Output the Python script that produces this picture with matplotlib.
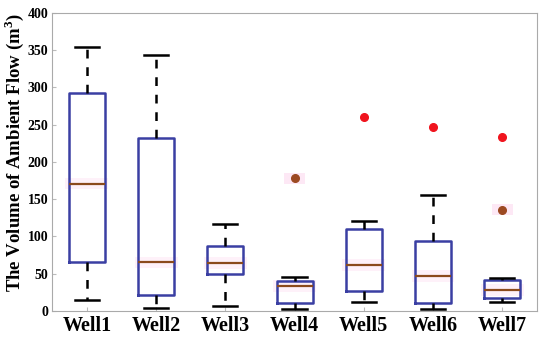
import matplotlib
matplotlib.use("Agg")
import matplotlib.pyplot as plt
from matplotlib.patches import Rectangle

wells = ["Well1", "Well2", "Well3", "Well4", "Well5", "Well6", "Well7"]
whislo = [14, 4, 7, 2, 12, 3, 12]
q1 = [66, 21, 49, 10, 27, 11, 17]
med = [171, 65, 64, 33, 61, 47, 28]
q3 = [292, 232, 87, 40, 110, 94, 42]
whishi = [355, 343, 117, 46, 121, 155, 44]
red_outliers = [[], [], [], [], [260], [247], [233]]
brown_outliers = [[], [], [], [178], [], [], [136]]
yticks = [0, 50, 100, 150, 200, 250, 300, 350, 400]

plt.rcParams['font.family'] = ['Liberation Serif', 'DejaVu Serif']
plt.rcParams['mathtext.fontset'] = 'custom'
plt.rcParams['mathtext.bf'] = 'Liberation Serif:bold'
plt.rcParams['mathtext.rm'] = 'Liberation Serif'
fig = plt.figure(figsize=(5.5, 3.42), dpi=100)
ax = fig.add_axes([0.095, 0.091, 0.881, 0.871])

stats = []
for i, w in enumerate(wells):
    stats.append(dict(label=w, whislo=whislo[i], q1=q1[i], med=med[i],
                      q3=q3[i], whishi=whishi[i], fliers=[]))
pos = list(range(1, len(wells) + 1))
width = 0.52
# faint pink glow behind medians
for p, m in zip(pos, med):
    ax.add_patch(Rectangle((p - width / 2 - 0.05, m - 8), width + 0.1, 16,
                           facecolor='#fef1f9', edgecolor='none', zorder=1))
ax.bxp(stats, positions=pos, widths=width, showfliers=False,
       boxprops=dict(color='#3a3fa3', linewidth=1.8),
       medianprops=dict(color='#8b4a1c', linewidth=1.6),
       whiskerprops=dict(color='black', linewidth=1.8, linestyle=(0, (3.5, 3.5))),
       capprops=dict(color='black', linewidth=1.8),
       capwidths=0.35, manage_ticks=False, zorder=3)
for p, vals in zip(pos, red_outliers):
    for v in vals:
        ax.plot(p, v, 'o', color='#f0141e', markersize=5.5, zorder=4)
for p, vals in zip(pos, brown_outliers):
    for v in vals:
        ax.add_patch(Rectangle((p - 0.15, v - 7), 0.30, 14,
                               facecolor='#fde8f5', edgecolor='none', zorder=2))
        ax.plot(p, v, 'o', color='#9c4a22', markersize=5.5, zorder=4)

ax.set_xlim(0.5, 7.5)
ax.set_ylim(0, 400)
ax.set_xticks(pos)
ax.set_xticklabels(wells, fontsize=14.5, fontweight='bold')
ax.set_yticks(yticks)
ax.set_yticklabels([str(t) for t in yticks], fontsize=10, fontweight='bold')
ax.tick_params(direction='in', length=3, color='#bbbbbb', pad=3)
ax.tick_params(axis='x', pad=4)
for s in ax.spines.values():
    s.set_color('#aaaaaa')
    s.set_linewidth(0.8)
fig.text(0.025, 0.555, 'The Volume of Ambient Flow (m$^\\mathbf{3}$)', fontsize=13.5,
         fontweight='bold', rotation=90, ha='center', va='center')
fig.savefig('out.png', dpi=100)
